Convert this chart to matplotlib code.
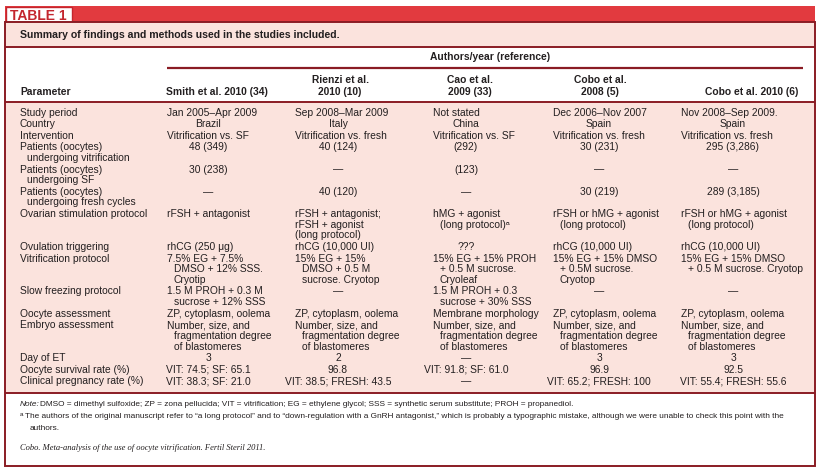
import matplotlib

matplotlib.use("Agg")
import matplotlib.pyplot as plt
from matplotlib.patches import Rectangle
from matplotlib import font_manager

plt.rcParams["font.family"] = ["Liberation Sans", "DejaVu Sans"]

# ---- table content ----
title = "TABLE 1"
caption = "Summary of findings and methods used in the studies included."
group_header = "Authors/year (reference)"
studies = [
    "Smith et al. 2010 (34)",
    "Rienzi et al.\n2010 (10)",
    "Cao et al.\n2009 (33)",
    "Cobo et al.\n2008 (5)",
    "Cobo et al. 2010 (6)",
]
parameters = [
    "Study period",
    "Country",
    "Intervention",
    "Patients (oocytes)\n  undergoing vitrification",
    "Patients (oocytes)\n  undergoing SF",
    "Patients (oocytes)\n  undergoing fresh cycles",
    "Ovarian stimulation protocol",
    "Ovulation triggering",
    "Vitrification protocol",
    "Slow freezing protocol",
    "Oocyte assessment",
    "Embryo assessment",
    "Day of ET",
    "Oocyte survival rate (%)",
    "Clinical pregnancy rate (%)",
]
smith_2010 = [
    "Jan 2005\u2013Apr 2009", "Brazil", "Vitrification vs. SF", "48 (349)",
    "30 (238)", "\u2014", "rFSH + antagonist", "rhCG (250 \u03bcg)",
    "7.5% EG + 7.5%\n  DMSO + 12% SSS.\n  Cryotip",
    "1.5 M PROH + 0.3 M\n  sucrose + 12% SSS",
    "ZP, cytoplasm, oolema",
    "Number, size, and\n  fragmentation degree\n  of blastomeres",
    "3", "VIT: 74.5; SF: 65.1", "VIT: 38.3; SF: 21.0",
]
rienzi_2010 = [
    "Sep 2008\u2013Mar 2009", "Italy", "Vitrification vs. fresh", "40 (124)",
    "\u2014", "40 (120)", "rFSH + antagonist;\nrFSH + agonist\n(long protocol)",
    "rhCG (10,000 UI)",
    "15% EG + 15%\n  DMSO + 0.5 M\n  sucrose. Cryotop",
    "\u2014", "ZP, cytoplasm, oolema",
    "Number, size, and\n  fragmentation degree\n  of blastomeres",
    "2", "96.8", "VIT: 38.5; FRESH: 43.5",
]
cao_2009 = [
    "Not stated", "China", "Vitrification vs. SF", "(292)", "(123)", "\u2014",
    "hMG + agonist\n  (long protocol)\u1d43", "???",
    "15% EG + 15% PROH\n  + 0.5 M sucrose.\n  Cryoleaf",
    "1.5 M PROH + 0.3\n  sucrose + 30% SSS",
    "Membrane morphology",
    "Number, size, and\n  fragmentation degree\n  of blastomeres",
    "\u2014", "VIT: 91.8; SF: 61.0", "\u2014",
]
cobo_2008 = [
    "Dec 2006\u2013Nov 2007", "Spain", "Vitrification vs. fresh", "30 (231)",
    "\u2014", "30 (219)", "rFSH or hMG + agonist\n  (long protocol)",
    "rhCG (10,000 UI)",
    "15% EG + 15% DMSO\n  + 0.5M sucrose.\n  Cryotop",
    "\u2014", "ZP, cytoplasm, oolema",
    "Number, size, and\n  fragmentation degree\n  of blastomeres",
    "3", "96.9", "VIT: 65.2; FRESH: 100",
]
cobo_2010 = [
    "Nov 2008\u2013Sep 2009.", "Spain", "Vitrification vs. fresh", "295 (3,286)",
    "\u2014", "289 (3,185)", "rFSH or hMG + agonist\n  (long protocol)",
    "rhCG (10,000 UI)",
    "15% EG + 15% DMSO\n  + 0.5 M sucrose. Cryotop",
    "\u2014", "ZP, cytoplasm, oolema",
    "Number, size, and\n  fragmentation degree\n  of blastomeres",
    "3", "92.5", "VIT: 55.4; FRESH: 55.6",
]
row_align = ["l", "c", "l", "c", "c", "c", "l", "l", "l", "l", "l", "l", "c", "c", "c"]
note_text = (
    "DMSO = dimethyl sulfoxide; ZP = zona pellucida; VIT = vitrification; "
    "EG = ethylene glycol; SSS = synthetic serum substitute; PROH = propanediol."
)
footnote_text = (
    "The authors of the original manuscript refer to \u201ca long protocol\u201d and to "
    "\u201cdown-regulation with a GnRH antagonist,\u201d which is probably a typographic "
    "mistake, although we were unable to check this point with the\n  authors."
)
source_text = "Cobo. Meta-analysis of the use of oocyte vitrification. Fertil Steril 2011."

columns = [smith_2010, rienzi_2010, cao_2009, cobo_2008, cobo_2010]

# ---- styling ----
RED = "#e23a3f"
TITLE_RED = "#c4262e"
DARK = "#8a1c24"
PINK = "#fbe3dd"
INK = "#231f20"
FS = 7.4
FOOT_FS = 5.95

installed = {f.name for f in font_manager.fontManager.ttflist}
title_family = "Liberation Sans Narrow" if "Liberation Sans Narrow" in installed else "Liberation Sans"

fig = plt.figure(figsize=(8.19, 4.70), dpi=100)
ax = fig.add_axes([0, 0, 1, 1])
ax.set_xlim(0, 819)
ax.set_ylim(470, 0)
ax.axis("off")

L, R = 5, 815
# title bar
ax.add_patch(Rectangle((L, 6), R - L, 16, facecolor=RED, edgecolor="none"))
ax.add_patch(Rectangle((L + 0.5, 6.5), 66, 15, facecolor="white", edgecolor=TITLE_RED, lw=1.0))
ax.text(L + 33, 19.5, title, fontsize=10, fontweight="bold", color=TITLE_RED,
        ha="center", va="baseline", family=title_family)

# caption band, header, body, footer
ax.add_patch(Rectangle((L, 22), R - L, 25, facecolor=PINK, edgecolor="none"))
ax.add_patch(Rectangle((L, 102), R - L, 291, facecolor=PINK, edgecolor="none"))
ax.add_patch(Rectangle((L, 22), R - L, 444, facecolor="none", edgecolor=DARK, lw=1.4))
for yl in (47, 102, 393):
    ax.plot([L, R], [yl, yl], color=DARK, lw=1.4, solid_capstyle="butt")
ax.plot([167, 803], [68, 68], color=DARK, lw=1.6, solid_capstyle="butt")

ax.text(20, 35, caption, fontsize=7.6, fontweight="bold", color=INK, va="center")
ax.text(490, 57.5, group_header, fontsize=FS, fontweight="bold", color=INK,
        ha="center", va="center")

# column headers
head_center = [217, 340, 470, 600, 752]
ax.text(20, 92, "Parameter", fontsize=FS, fontweight="bold", color=INK, va="center")
for hx, name in zip(head_center, studies):
    lines = name.split("\n")
    for k, line in enumerate(lines):
        hy = 92 - (len(lines) - 1 - k) * 12
        ax.text(hx, hy, line, fontsize=FS, fontweight="bold", color=INK,
                ha="center", va="center")

# body
param_x = 20
col_left = [167, 295, 433, 553, 681]
col_center = [208, 338, 466, 599, 733]
step, gap, indent = 10.65, 0.95, 7
y = 112.5


def draw_cell(x, y, text, align):
    for k, line in enumerate(text.split("\n")):
        dx = indent if (line.startswith(" ") and align == "l") else 0
        ax.text(x + dx, y + k * step, line.strip(), fontsize=FS, color=INK,
                ha="left" if align == "l" else "center", va="center")


for r, param in enumerate(parameters):
    cells = [col[r] for col in columns]
    nlines = max(t.count("\n") + 1 for t in [param] + cells)
    draw_cell(param_x, y, param, "l")
    for c, text in enumerate(cells):
        align = row_align[r]
        if text in ("\u2014", "???"):
            align = "c"
        x = col_left[c] if align == "l" else col_center[c]
        draw_cell(x, y, text, align)
    y += nlines * step + gap

# footer
ax.text(20, 404.5, "Note:", fontsize=FOOT_FS, style="italic", color=INK, va="center")
ax.text(40, 404.5, note_text, fontsize=FOOT_FS, color=INK, va="center")
ax.text(20, 414, "a", fontsize=4.6, color=INK, va="center")
fl = footnote_text.split("\n")
ax.text(25, 416.5, fl[0], fontsize=FOOT_FS, color=INK, va="center")
ax.text(30, 428, fl[1].strip(), fontsize=FOOT_FS, color=INK, va="center")
ax.text(20, 448, source_text, fontsize=6.1, style="italic", color=INK, va="center",
        family="Liberation Serif")

plt.savefig("out.png", dpi=100)
